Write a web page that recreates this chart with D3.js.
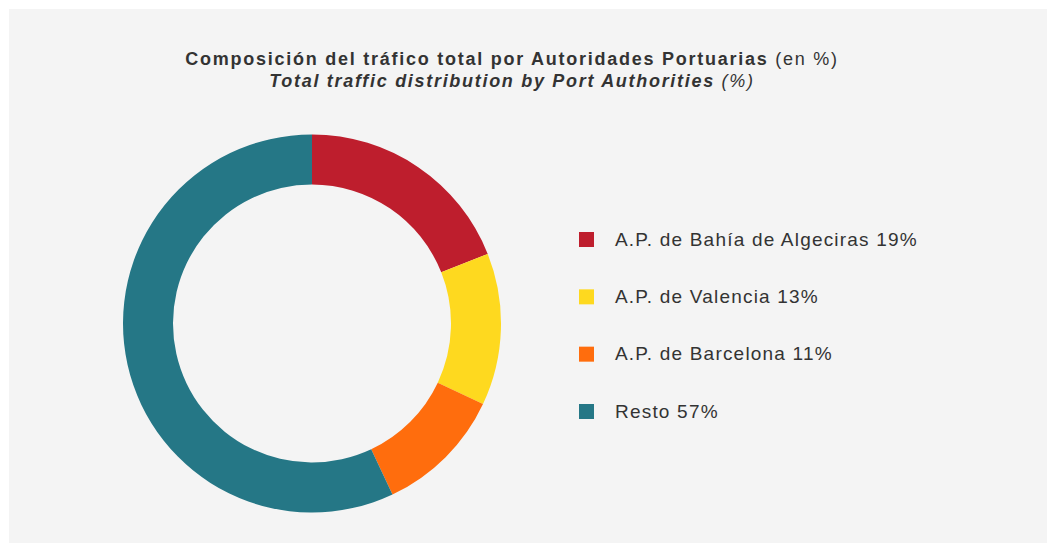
<!DOCTYPE html>
<html>
<head>
<meta charset="utf-8">
<script src="https://d3js.org/d3.v7.min.js"></script>
<style>
    body { margin: 0; background: #fff; }
    svg text { font-family: "Liberation Sans", Arial, Helvetica, sans-serif; fill: #333; }
</style>
</head>
<body>
<svg id="chart"></svg>
<script>
    // datos
    var names = ["A.P. de Bahía de Algeciras", "A.P. de Valencia", "A.P. de Barcelona", "Resto"];
    var values = [19, 13, 11, 57];
    var colors = ["#be1e2d", "#fed91f", "#ff6d0d", "#257786"];

    var width = 1054, height = 543;

    var svg = d3.select("#chart")
        .attr("width", width)
        .attr("height", height);

    svg.append("rect")
        .attr("x", 9).attr("y", 9)
        .attr("width", 1038).attr("height", height - 9)
        .attr("fill", "#f4f4f4");

    // title
    var t1 = svg.append("text")
        .attr("x", 512).attr("y", 64.5)
        .attr("text-anchor", "middle")
        .style("font-size", "18px")
        .style("letter-spacing", "1.75px");
    t1.append("tspan").style("font-weight", "bold")
        .text("Composición del tráfico total por Autoridades Portuarias");
    t1.append("tspan").text(" (en %)");

    var t2 = svg.append("text")
        .attr("x", 512).attr("y", 86.5)
        .attr("text-anchor", "middle")
        .style("font-size", "18px")
        .style("letter-spacing", "1.7px")
        .style("font-style", "italic");
    t2.append("tspan").style("font-weight", "bold")
        .text("Total traffic distribution by Port Authorities");
    t2.append("tspan").text(" (%)");

    // donut
    var pie = d3.pie().sort(null).value(function (d) { return d; });
    var arc = d3.arc().innerRadius(139).outerRadius(189);

    var g = svg.append("g").attr("transform", "translate(312,323.5)");
    g.selectAll("path")
        .data(pie(values))
        .enter()
        .append("path")
        .attr("d", arc)
        .attr("fill", function (d, i) { return colors[i]; });

    // legend
    var y = d3.scalePoint().domain(names).range([239, 411]);
    var leg = svg.selectAll("g.leg")
        .data(names)
        .enter()
        .append("g")
        .attr("class", "leg")
        .attr("transform", function (d) { return "translate(579," + y(d) + ")"; });
    leg.append("rect")
        .attr("x", 0).attr("y", -7)
        .attr("width", 15).attr("height", 15)
        .attr("fill", function (d, i) { return colors[i]; });
    leg.append("text")
        .attr("x", 36).attr("y", 6.5)
        .style("font-size", "19px")
        .style("letter-spacing", "1.2px")
        .text(function (d, i) { return d + " " + values[i] + "%"; });
</script>
</body>
</html>
